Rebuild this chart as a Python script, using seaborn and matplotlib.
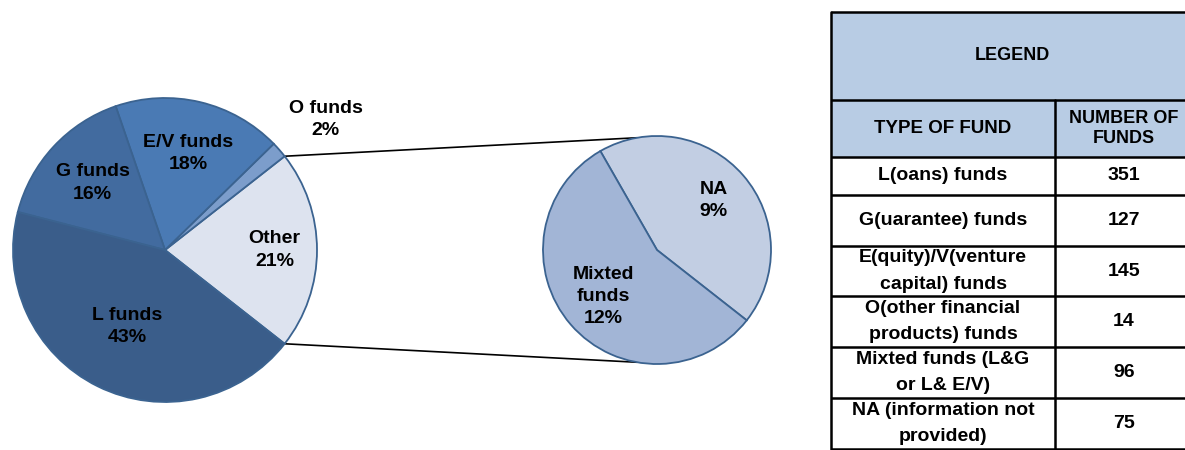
import numpy as np
import matplotlib
matplotlib.use("Agg")
import matplotlib.pyplot as plt
from matplotlib.patches import Rectangle
import seaborn as sns

# data
main_labels = ["Other", "O funds", "E/V funds", "G funds", "L funds"]
main_counts = [None, 14, 145, 127, 351]   # "Other" filled from the breakdown
sub_labels = ["NA", "Mixted\nfunds"]
sub_counts = [75, 96]

table_types = [
    "L(oans) funds",
    "G(uarantee) funds",
    "E(quity)/V(venture\ncapital) funds",
    "O(other financial\nproducts) funds",
    "Mixted funds (L&G\nor L& E/V)",
    "NA (information not\nprovided)",
]
table_numbers = [351, 127, 145, 14, 96, 75]

main_colors = ["#DDE3EF", "#7C9DCB", "#4A7AB4", "#426B9F", "#3A5D8A"]
sub_colors = ["#C2CEE3", "#A2B5D6"]
EDGE = "#3B6390"
HEADER_FILL = "#B8CCE4"

sns.set_theme(style="white")
plt.rcParams["font.family"] = ["Liberation Sans", "DejaVu Sans"]
plt.rcParams["text.color"] = "black"

W, H = 1185, 450
fig = plt.figure(figsize=(W / 100, H / 100), dpi=100)

# ---- pie of pie (pixel-like data units, y up) ----
ax = fig.add_axes([0, 0, 800 / W, 1])

other_total = sum(sub_counts)
values = [other_total] + main_counts[1:]
total = sum(values)
shares = [v / total for v in values]
sub_shares = [v / total for v in sub_counts]

c1, r1 = (165, 200), 152
c2, r2 = (657, 200), 114
start = -shares[0] * 360 / 2

wedges, _ = ax.pie(values, colors=main_colors, startangle=start, counterclock=True,
                   center=c1, radius=r1, frame=True,
                   wedgeprops=dict(edgecolor=EDGE, linewidth=1.3))
sub_wedges, _ = ax.pie(sub_counts, colors=sub_colors, startangle=start, counterclock=True,
                       center=c2, radius=r2, frame=True,
                       wedgeprops=dict(edgecolor=EDGE, linewidth=1.3))
ax.set_xlim(0, 800)
ax.set_ylim(0, 450)
ax.set_aspect("equal")
ax.set_axis_off()

main_dist = [0.72, 1.3, 0.65, 0.65, 0.56]
for w, lab, sh, d in zip(wedges, main_labels, shares, main_dist):
    mid = np.deg2rad((w.theta1 + w.theta2) / 2)
    x = c1[0] + d * r1 * np.cos(mid)
    y = c1[1] + d * r1 * np.sin(mid)
    if lab == "O funds":
        x += 12
    ax.text(x, y, f"{lab}\n{sh * 100:.0f}%", ha="center", va="center",
            fontsize=14, fontweight="bold", color="black", linespacing=1.4)

for w, lab, sh in zip(sub_wedges, sub_labels, sub_shares):
    mid = np.deg2rad((w.theta1 + w.theta2) / 2)
    d = 0.66 if lab == "NA" else 0.62
    x = c2[0] + d * r2 * np.cos(mid)
    y = c2[1] + d * r2 * np.sin(mid)
    ax.text(x, y, f"{lab}\n{sh * 100:.0f}%", ha="center", va="center",
            fontsize=14, fontweight="bold", color="black", linespacing=1.4)

# connector lines from the "Other" wedge to the second pie
other = wedges[0]
for ang1, ang2 in [(other.theta2, 100), (other.theta1, 260)]:
    a1, a2 = np.deg2rad(ang1), np.deg2rad(ang2)
    ax.plot([c1[0] + r1 * np.cos(a1), c2[0] + r2 * np.cos(a2)],
            [c1[1] + r1 * np.sin(a1), c2[1] + r2 * np.sin(a2)],
            color="black", lw=1.2, zorder=0)

# ---- legend table (pixel coords, y down) ----
tx = fig.add_axes([0, 0, 1, 1])
tx.set_xlim(0, W)
tx.set_ylim(H, 0)
tx.set_axis_off()
tx.patch.set_alpha(0)

x0, xm, x1 = 831, 1055, 1193
rows = [12, 100, 157, 195, 246, 296, 347, 398, 449]

tx.add_patch(Rectangle((x0, rows[0]), x1 - x0, rows[2] - rows[0],
                       facecolor=HEADER_FILL, edgecolor="none"))
for y in rows:
    tx.plot([x0, x1], [y, y], color="black", lw=1.8, solid_capstyle="butt")
tx.plot([x0, x0], [rows[0], H], color="black", lw=1.8)
tx.plot([xm, xm], [rows[1], H], color="black", lw=1.8)

tx.text((x0 + x1) / 2, (rows[0] + rows[1]) / 2, "LEGEND", ha="center", va="center",
        fontsize=13, fontweight="bold", color="black")
tx.text((x0 + xm) / 2, (rows[1] + rows[2]) / 2, "TYPE OF FUND", ha="center", va="center",
        fontsize=13.5, fontweight="bold", color="black")
tx.text((xm + x1) / 2, (rows[1] + rows[2]) / 2, "NUMBER OF\nFUNDS", ha="center", va="center",
        fontsize=13, fontweight="bold", color="black", linespacing=1.3)

for i, (name, num) in enumerate(zip(table_types, table_numbers)):
    yc = (rows[i + 2] + rows[i + 3]) / 2
    tx.text((x0 + xm) / 2, yc, name, ha="center", va="center",
            fontsize=14, fontweight="bold", color="black", linespacing=1.75)
    tx.text((xm + x1) / 2, yc, str(num), ha="center", va="center",
            fontsize=14, fontweight="bold", color="black")

fig.savefig("out.png", dpi=100, facecolor="white")
